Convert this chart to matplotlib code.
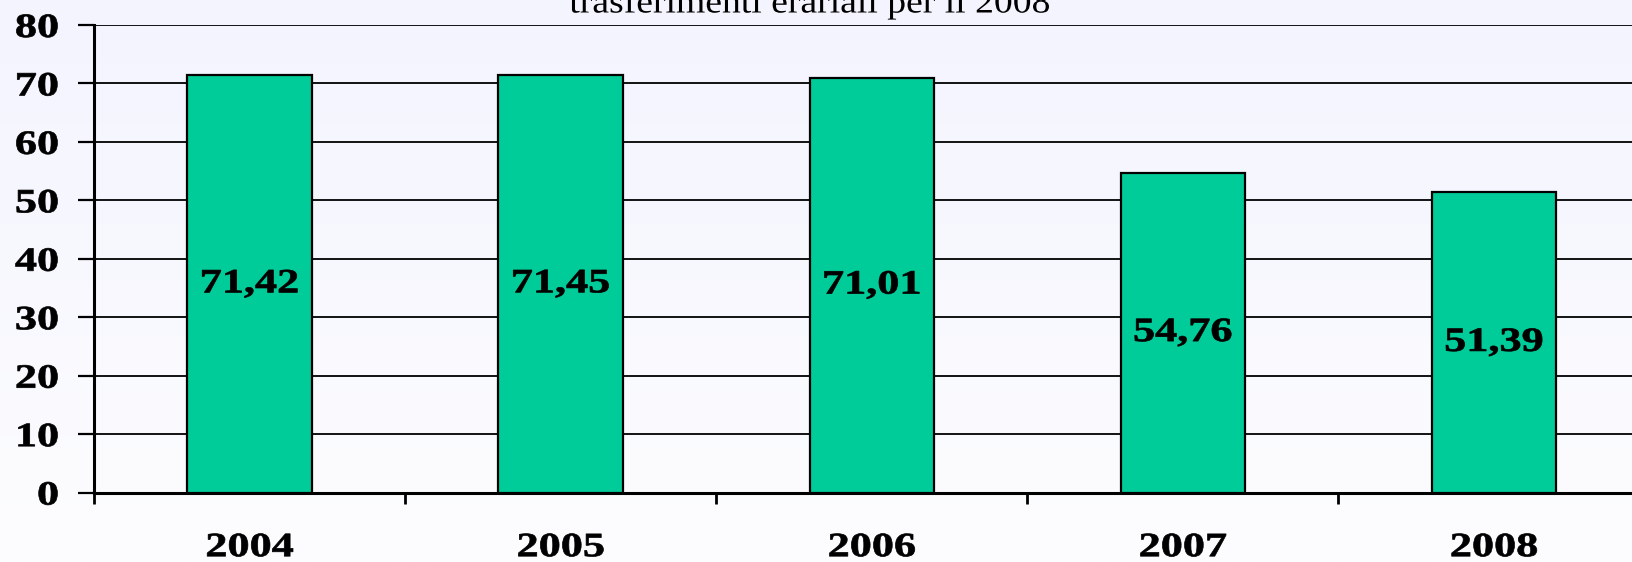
import numpy as np
import matplotlib
matplotlib.use('Agg')
import matplotlib.pyplot as plt
from matplotlib.colors import LinearSegmentedColormap
from matplotlib.patheffects import AbstractPathEffect
from matplotlib.transforms import Affine2D

years = ['2004', '2005', '2006', '2007', '2008']
values = [71.42, 71.45, 71.01, 54.76, 51.39]
labels = ['71,42', '71,45', '71,01', '54,76', '51,39']
title = 'trasferimenti erariali per il 2008'

W, H = 1633, 562
SX = 1.3  # the original's lettering is stretched sideways


class Stretch(AbstractPathEffect):
    """Draw the text glyphs widened by sx, about their centre or right edge."""

    def __init__(self, sx=SX, anchor='center', lw=0.0):
        super().__init__()
        self.sx = sx
        self.anchor = anchor
        self.lw = lw

    def draw_path(self, renderer, gc, tpath, affine, rgbFace=None):
        ext = tpath.get_extents()
        x0 = ext.x1 if self.anchor == 'right' else (ext.x0 + ext.x1) / 2
        a = Affine2D().translate(-x0, 0).scale(self.sx, 1).translate(x0, 0) + affine
        gc0 = renderer.new_gc()
        gc0.copy_properties(gc)
        if self.lw:
            gc0.set_linewidth(self.lw)
            gc0.set_foreground(rgbFace)
        renderer.draw_path(gc0, tpath, a, rgbFace)
        gc0.restore()


fig = plt.figure(figsize=(W / 100, H / 100), dpi=100)

# background gradient (lavender at top, near white at bottom)
bg = fig.add_axes([0, 0, 1, 1], zorder=-10)
cmap = LinearSegmentedColormap.from_list('bg', ['#f3f4fe', '#fdfdff'])
bg.imshow(np.linspace(0, 1, 256).reshape(-1, 1), aspect='auto', cmap=cmap,
          extent=[0, 1, 0, 1])
bg.axis('off')

serif = ['Liberation Serif', 'DejaVu Serif']

# axes run past the right edge of the picture, as in the original
left, bottom, top = 94 / W, (H - 492.6) / H, (H - 25) / H
ax = fig.add_axes([left, bottom, 5 * 311.1 / W, top - bottom])
ax.patch.set_alpha(0)

x = np.arange(len(years))
ax.bar(x, values, width=0.4, color='#00cc99', edgecolor='black',
       linewidth=1.6, zorder=3)
for xi, v, lab in zip(x, values, labels):
    ax.text(xi, v / 2, lab, ha='center', va='center', fontsize=24.5,
            fontweight='bold', family=serif, zorder=4,
            path_effects=[Stretch(lw=0.5)])

ax.set_xlim(-0.5, 4.5)
ax.set_ylim(0, 80)
ax.set_yticks(np.arange(0, 81, 10))
ax.yaxis.grid(True, color='black', linewidth=1.3, zorder=0)
ax.set_axisbelow(True)

ax.set_xticks(np.arange(-0.5, 5, 1))
ax.set_xticklabels([])
ax.set_xticks(x, minor=True)
ax.set_xticklabels(years, minor=True)
ax.tick_params(axis='x', which='major', length=8, width=2, direction='out')
ax.tick_params(axis='x', which='minor', length=0, pad=28.5)
ax.tick_params(axis='y', length=11.5, width=1.6, pad=14)

for lab in ax.get_xticklabels(minor=True):
    lab.set_path_effects([Stretch(lw=0.5)])
for lab in ax.get_yticklabels():
    lab.set_path_effects([Stretch(anchor='right', lw=0.5)])
for lab in ax.get_yticklabels() + ax.get_xticklabels(minor=True):
    lab.set_family(serif)
    lab.set_fontweight('bold')
    lab.set_fontsize(24.5)

for s in ['top', 'right']:
    ax.spines[s].set_visible(False)
for s in ['left', 'bottom']:
    ax.spines[s].set_linewidth(2.2)

# title sits mostly above the top of the picture, as in the original
fig.text(810 / W, 1 - 12.5 / H, title, ha='center', va='baseline',
         fontsize=24, family=serif, path_effects=[Stretch(sx=1.13)])

fig.savefig('out.png', dpi=100)
